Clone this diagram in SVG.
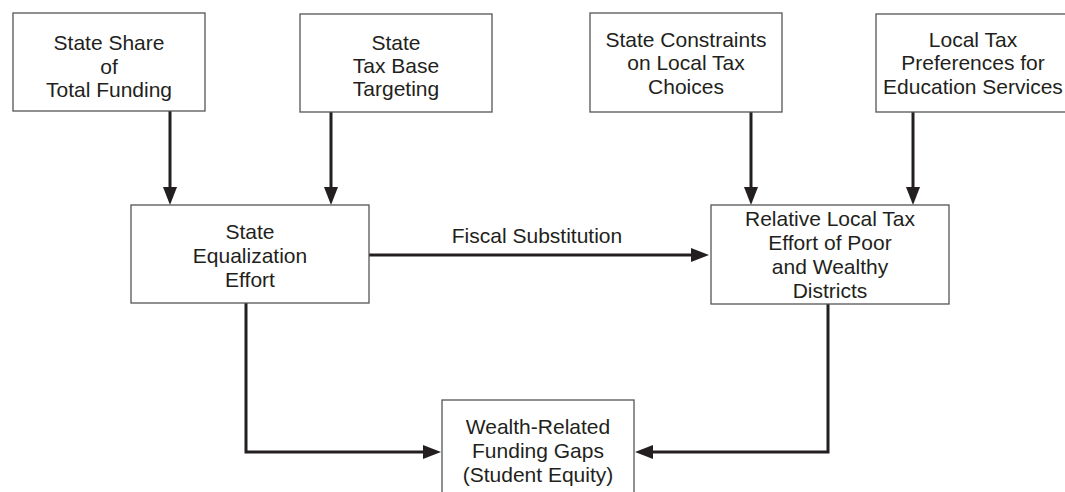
<svg xmlns="http://www.w3.org/2000/svg" width="1065" height="492" viewBox="0 0 1065 492">
  <style>
    .box { fill: #ffffff; stroke: #555555; stroke-width: 1.3; }
    .t { font-family: "Liberation Sans", Arial, sans-serif; font-size: 21px; fill: #231f20; text-anchor: middle; }
    .c { fill: none; stroke: #231f20; stroke-width: 3; }
  </style>
  <defs>
    <marker id="ah" viewBox="0 0 18 14" refX="6" refY="7" markerWidth="18" markerHeight="14" markerUnits="userSpaceOnUse" orient="auto">
      <path d="M0,0 L18,7 L0,14 Z" fill="#231f20"/>
    </marker>
  </defs>
  <rect width="1065" height="492" fill="#ffffff"/>

  <g id="connectors">
    <line class="c" x1="170" y1="111" x2="170" y2="193" marker-end="url(#ah)"/>
    <line class="c" x1="331" y1="112" x2="331" y2="193" marker-end="url(#ah)"/>
    <line class="c" x1="751" y1="112" x2="751" y2="193" marker-end="url(#ah)"/>
    <line class="c" x1="913" y1="112" x2="913" y2="193" marker-end="url(#ah)"/>
    <line class="c" x1="369" y1="255" x2="697" y2="255" marker-end="url(#ah)"/>
    <text class="t" x="537" y="243">Fiscal Substitution</text>
    <polyline class="c" points="246,303 246,452 429,452" marker-end="url(#ah)"/>
    <polyline class="c" points="828,304 828,452 647,452" marker-end="url(#ah)"/>
  </g>

  <g id="state-share">
    <rect class="box" x="13" y="13" width="192" height="98"/>
    <text class="t" x="109" y="50">State Share</text>
    <text class="t" x="109" y="73.5">of</text>
    <text class="t" x="109" y="97">Total Funding</text>
  </g>

  <g id="tax-base">
    <rect class="box" x="300" y="14" width="192" height="98"/>
    <text class="t" x="396" y="50">State</text>
    <text class="t" x="396" y="73">Tax Base</text>
    <text class="t" x="396" y="96">Targeting</text>
  </g>

  <g id="constraints">
    <rect class="box" x="590" y="13" width="192" height="99"/>
    <text class="t" x="686" y="47">State Constraints</text>
    <text class="t" x="686" y="70">on Local Tax</text>
    <text class="t" x="686" y="94">Choices</text>
  </g>

  <g id="preferences">
    <rect class="box" x="876" y="14" width="194" height="98"/>
    <text class="t" x="973" y="47">Local Tax</text>
    <text class="t" x="973" y="70">Preferences for</text>
    <text class="t" x="973" y="94">Education Services</text>
  </g>

  <g id="equalization">
    <rect class="box" x="131" y="205" width="238" height="98"/>
    <text class="t" x="250" y="239">State</text>
    <text class="t" x="250" y="263">Equalization</text>
    <text class="t" x="250" y="287">Effort</text>
  </g>

  <g id="relative-effort">
    <rect class="box" x="711" y="205" width="238" height="99"/>
    <text class="t" x="830" y="226">Relative Local Tax</text>
    <text class="t" x="830" y="250">Effort of Poor</text>
    <text class="t" x="830" y="274">and Wealthy</text>
    <text class="t" x="830" y="298">Districts</text>
  </g>

  <g id="funding-gaps">
    <rect class="box" x="442" y="400" width="192" height="100"/>
    <text class="t" x="538" y="434">Wealth-Related</text>
    <text class="t" x="538" y="458">Funding Gaps</text>
    <text class="t" x="538" y="482">(Student Equity)</text>
  </g>
</svg>
